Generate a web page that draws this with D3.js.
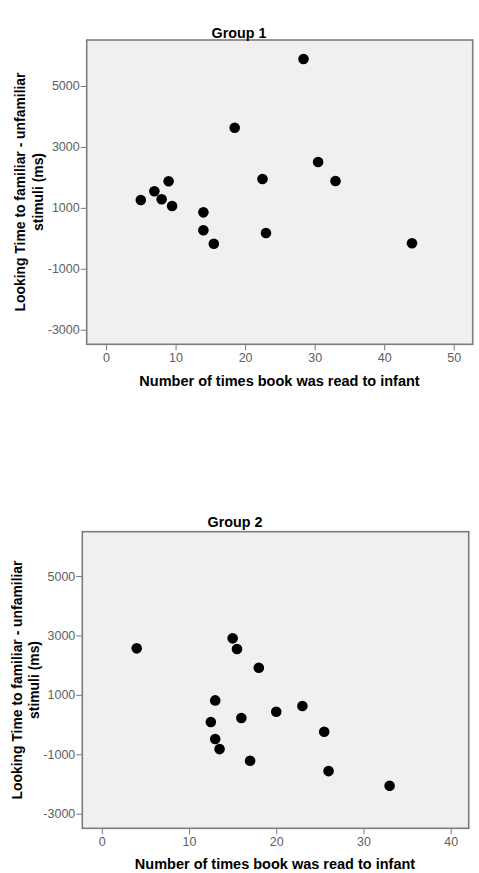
<!DOCTYPE html>
<html>
<head>
<meta charset="utf-8">
<script src="https://cdn.jsdelivr.net/npm/d3@7"></script>
<style>
  html, body { margin: 0; padding: 0; background: #ffffff; }
  svg { display: block; }
  text { font-family: "Liberation Sans", Arial, sans-serif; }
</style>
</head>
<body>
<svg id="chart" width="479" height="873"></svg>
<script>
// ---- Data ----
const group1Reads = [28.4, 18.5, 30.5, 22.5, 33.0, 9.0, 6.95, 8.0, 5.0, 9.5, 14.0, 14.0, 23.0, 15.5, 44.0];
const group1Diff  = [5886, 3631, 2505, 1947, 1881, 1871, 1543, 1280, 1257, 1060, 853, 263, 174, -177, -164];

const group2Reads = [4.0, 15.0, 15.5, 18.0, 13.0, 23.0, 20.0, 16.0, 12.5, 25.5, 13.0, 13.5, 17.0, 26.0, 33.0];
const group2Diff  = [2565, 2901, 2542, 1914, 814, 623, 432, 219, 84, -241, -488, -825, -1218, -1566, -2059];

const yTickValues = [-3000, -1000, 1000, 3000, 5000];
const xTickValues1 = [0, 10, 20, 30, 40, 50];
const xTickValues2 = [0, 10, 20, 30, 40];

const titles = ["Group 1", "Group 2"];
const xAxisTitle = "Number of times book was read to infant";
const yAxisTitleLines = ["Looking Time to familiar - unfamiliar", "stimuli (ms)"];

// ---- Drawing ----
const svg = d3.select("#chart");
const plainFormat = d => String(d);

function drawPanel(cfg) {
  const g = svg.append("g");
  const x = d3.scaleLinear().domain(cfg.xDomain).range([cfg.left, cfg.right]);
  const y = d3.scaleLinear().domain(cfg.yDomain).range([cfg.bottom, cfg.top]);

  // plot background
  g.append("rect")
    .attr("x", cfg.left).attr("y", cfg.top)
    .attr("width", cfg.right - cfg.left).attr("height", cfg.bottom - cfg.top)
    .attr("fill", "#f0f0f0");

  // axes
  const yAxis = d3.axisLeft(y).tickValues(yTickValues).tickSize(6).tickPadding(1).tickFormat(plainFormat);
  const xAxis = d3.axisBottom(x).tickValues(cfg.xTicks).tickSize(6).tickPadding(3).tickFormat(plainFormat);

  const ya = g.append("g").attr("transform", `translate(${cfg.left},0)`).call(yAxis);
  const xa = g.append("g").attr("transform", `translate(0,${cfg.bottom})`).call(xAxis);
  [ya, xa].forEach(a => {
    a.select(".domain").remove();
    a.selectAll(".tick line").attr("stroke", "#7a7a7a").attr("stroke-width", 1);
    a.selectAll(".tick text").attr("fill", "#606060").style("font-size", "12.5px")
      .style("font-family", '"Liberation Sans", Arial, sans-serif');
  });

  // frame
  g.append("rect")
    .attr("x", cfg.left).attr("y", cfg.top)
    .attr("width", cfg.right - cfg.left).attr("height", cfg.bottom - cfg.top)
    .attr("fill", "none").attr("stroke", "#7d7d7d").attr("stroke-width", 1.6);

  // points
  g.append("g").selectAll("circle")
    .data(cfg.xs.map((v, i) => [v, cfg.ys[i]]))
    .join("circle")
    .attr("cx", d => x(d[0]))
    .attr("cy", d => y(d[1]))
    .attr("r", 5.3)
    .attr("fill", "#000000");

  // title
  g.append("text")
    .attr("x", cfg.titleX).attr("y", cfg.titleY)
    .attr("text-anchor", "middle")
    .style("font-size", "14.3px").style("font-weight", "bold")
    .attr("fill", "#000")
    .text(cfg.title);

  // x title
  g.append("text")
    .attr("x", cfg.xTitleX).attr("y", cfg.xTitleY)
    .attr("text-anchor", "middle")
    .style("font-size", "14.5px").style("font-weight", "bold")
    .attr("fill", "#000")
    .text(xAxisTitle);

  // y title (two lines)
  yAxisTitleLines.forEach((line, i) => {
    g.append("text")
      .attr("transform", `translate(${cfg.yTitleX[i]},${cfg.yTitleCY}) rotate(-90)`)
      .attr("text-anchor", "middle")
      .attr("dy", "0.36em")
      .style("font-size", "13.9px").style("font-weight", "bold")
      .attr("fill", "#000")
      .text(line);
  });
}

drawPanel({
  left: 86.7, right: 472.7, top: 40, bottom: 344.3,
  xDomain: [-2.78, 52.73], yDomain: [-3479, 6510],
  xTicks: xTickValues1,
  xs: group1Reads, ys: group1Diff,
  title: titles[0], titleX: 239, titleY: 38,
  xTitleX: 279.5, xTitleY: 385.5,
  yTitleX: [20, 37.5], yTitleCY: 192
});

drawPanel({
  left: 82.3, right: 468.7, top: 531.7, bottom: 828.3,
  xDomain: [-2.24, 42.07], yDomain: [-3491, 6491],
  xTicks: xTickValues2,
  xs: group2Reads, ys: group2Diff,
  title: titles[1], titleX: 235, titleY: 526.5,
  xTitleX: 275, xTitleY: 869,
  yTitleX: [16.7, 33.5], yTitleCY: 680
});
</script>
</body>
</html>
